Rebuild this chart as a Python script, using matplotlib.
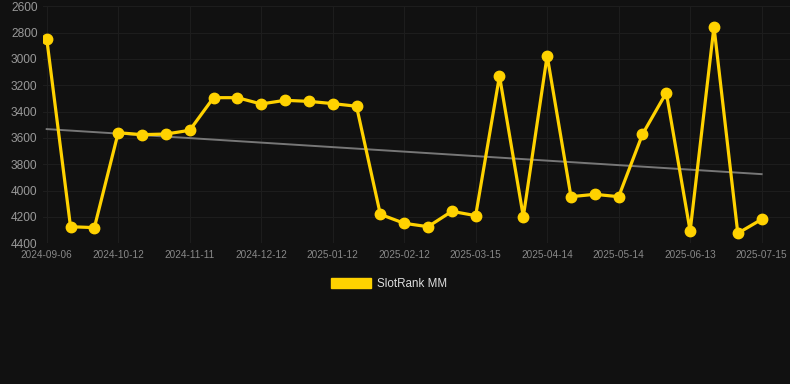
import numpy as np
import matplotlib
matplotlib.use('Agg')
import matplotlib.pyplot as plt
from matplotlib.patches import Patch


# data ---------------------------------------------------------------------------
dates = ['2024-09-06', '2024-09-18', '2024-09-30', '2024-10-12', '2024-10-22', '2024-11-01',
         '2024-11-11', '2024-11-21', '2024-12-02', '2024-12-12', '2024-12-22', '2025-01-02',
         '2025-01-12', '2025-01-22', '2025-02-02', '2025-02-12', '2025-02-22', '2025-03-05',
         '2025-03-15', '2025-03-25', '2025-04-04', '2025-04-14', '2025-04-24', '2025-05-04',
         '2025-05-14', '2025-05-24', '2025-06-03', '2025-06-13', '2025-06-23', '2025-07-03',
         '2025-07-15']
rank = [2845, 4274, 4281, 3560, 3575, 3570, 3542, 3294, 3294, 3342, 3314, 3322, 3339, 3359,
        4180, 4248, 4274, 4157, 4190, 3129, 4198, 2975, 4046, 4028, 4046, 3572, 3256, 4307,
        2755, 4324, 4218]
series_name = 'SlotRank MM'
y_ticks = [2600, 2800, 3000, 3200, 3400, 3600, 3800, 4000, 4200, 4400]

bg = '#111111'
yellow = '#ffd200'

# plot ---------------------------------------------------------------------------
plt.rcParams['font.family'] = ['Liberation Sans', 'DejaVu Sans']
fig = plt.figure(figsize=(7.9, 3.84), dpi=100, facecolor=bg)
ax = fig.add_axes([43 / 790, 1 - 243.3 / 384, 747 / 790, 237 / 384], facecolor=bg)

pos = np.arange(len(dates))
ax.plot(pos, rank, color=yellow, lw=2.3, marker='o', ms=7.5,
        solid_joinstyle='miter', zorder=3)

# trend line
k, b = np.polyfit(pos, rank, 1)
ax.plot(pos, k * pos + b, color='#777777', lw=1.4, zorder=2)

ax.set_ylim(4400, 2600)
ax.set_yticks(y_ticks)
ax.set_xlim(-0.155, 31.19)
ax.set_xticks(pos[::3])
ax.set_xticklabels(dates[::3])

ax.grid(True, color='#1d1d1d', lw=0.8)
ax.tick_params(axis='y', colors='#999999', labelsize=8.6, length=0, pad=4)
ax.tick_params(axis='x', colors='#888888', labelsize=7.2, length=0, pad=5)
for s in ax.spines.values():
    s.set_visible(False)

fig.legend(handles=[Patch(color=yellow, label=series_name)], loc='center',
           bbox_to_anchor=(389 / 790, 1 - 284 / 384), frameon=False,
           handlelength=3.4, handleheight=0.95, handletextpad=0.55,
           labelcolor='#dddddd', fontsize=8.4)

fig.savefig('out.png', dpi=100, facecolor=bg)
